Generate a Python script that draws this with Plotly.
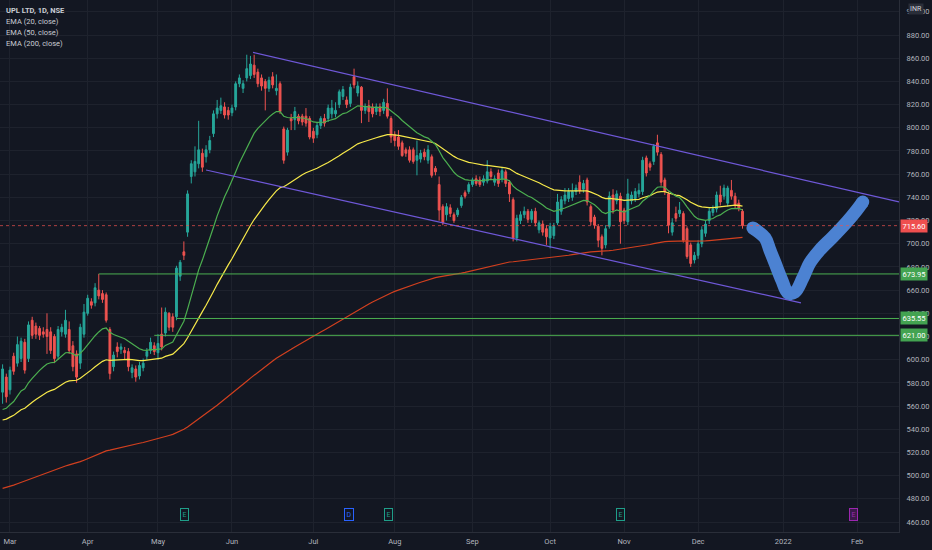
import plotly.graph_objects as go

# daily candles, index 0 = 1 Mar 2021 (trading days)
start_idx = -2
opens = [572, 585, 574, 603, 597, 601, 615, 601, 634, 629,
         627, 624, 626, 624, 620, 603, 624, 622, 626, 612,
         605, 597, 622, 640, 650, 649, 660, 657, 656, 626,
         594, 611, 609, 608, 607, 589, 592, 586, 593, 603,
         608, 612, 606, 622, 623, 640, 637, 637, 672, 693,
         710, 758, 762, 769, 778, 775, 781, 795, 812, 815,
         818, 815, 813, 818, 838, 834, 843, 845, 854, 848,
         843, 840, 834, 844, 832, 838, 799, 779, 808, 807,
         810, 810, 810, 808, 797, 794, 802, 808, 808, 812,
         812, 820, 827, 824, 821, 844, 830, 835, 815, 819,
         818, 814, 818, 815, 821, 808, 794, 792, 787, 781,
         781, 781, 772, 773, 779, 772, 775, 765, 751, 732,
         725, 731, 725, 725, 733, 744, 745, 751, 756, 755,
         753, 754, 762, 753, 761, 756, 762, 753, 738, 705,
         720, 725, 728, 721, 728, 712, 717, 713, 705, 707,
         718, 728, 737, 739, 740, 745, 753, 747, 755, 732,
         723, 715, 706, 699, 715, 742, 737, 741, 729, 719,
         737, 739, 743, 745, 774, 769, 771, 787, 777, 755,
         743, 710, 726, 726, 726, 713, 699, 686, 690, 700,
         709, 720, 727, 730, 742, 741, 735, 746, 741, 735,
         728]
highs = [596, 588, 594, 606, 620, 619, 618, 633, 637, 632,
         629, 628, 640, 628, 622, 629, 631, 643, 633, 616,
         608, 631, 648, 656, 653, 666, 674, 660, 658, 628,
         607, 615, 614, 611, 610, 596, 595, 598, 601, 610,
         619, 615, 622, 645, 645, 641, 640, 681, 686, 702,
         746, 772, 784, 806, 782, 785, 793, 815, 824, 826,
         822, 818, 820, 840, 846, 841, 863, 862, 863, 851,
         846, 842, 844, 848, 846, 840, 801, 800, 812, 818,
         812, 812, 817, 810, 800, 805, 810, 812, 820, 824,
         822, 833, 836, 827, 838, 851, 840, 836, 821, 824,
         821, 821, 821, 825, 834, 810, 797, 798, 789, 783,
         784, 783, 789, 781, 782, 785, 777, 767, 758, 734,
         735, 734, 727, 731, 742, 746, 753, 757, 759, 758,
         759, 772, 765, 759, 764, 766, 764, 755, 740, 725,
         728, 732, 730, 730, 731, 720, 720, 716, 718, 718,
         743, 741, 748, 748, 752, 751, 759, 755, 757, 734,
         725, 717, 708, 716, 745, 747, 746, 744, 731, 756,
         745, 748, 752, 775, 776, 771, 786, 794, 779, 757,
         745, 722, 732, 736, 728, 715, 701, 693, 703, 715,
         720, 731, 733, 745, 750, 751, 750, 755, 744, 738,
         730]
lows = [562, 563, 570, 587, 594, 598, 588, 598, 618, 618,
        617, 619, 605, 605, 597, 600, 620, 619, 605, 590,
        580, 592, 619, 638, 644, 646, 652, 649, 632, 583,
        590, 602, 605, 600, 590, 584, 581, 583, 590, 600,
        605, 604, 600, 608, 620, 625, 624, 634, 668, 686,
        706, 752, 758, 765, 762, 770, 778, 792, 808, 812,
        808, 807, 810, 815, 835, 830, 840, 842, 843, 835,
        832, 815, 831, 834, 828, 812, 769, 776, 798, 798,
        803, 802, 801, 790, 787, 791, 799, 801, 805, 808,
        809, 817, 824, 817, 818, 834, 827, 804, 812, 805,
        809, 811, 810, 812, 808, 787, 784, 781, 775, 775,
        770, 769, 759, 770, 772, 769, 757, 759, 720, 716,
        720, 723, 718, 723, 731, 739, 743, 749, 750, 749,
        750, 752, 755, 750, 749, 753, 749, 736, 702, 702,
        717, 722, 718, 718, 715, 709, 707, 699, 696, 704,
        716, 725, 734, 736, 737, 742, 743, 744, 733, 716,
        713, 697, 690, 696, 713, 726, 734, 700, 717, 716,
        734, 736, 740, 742, 758, 763, 768, 776, 750, 742,
        709, 707, 719, 723, 701, 687, 680, 683, 687, 697,
        706, 717, 724, 727, 733, 738, 732, 738, 730, 728,
        713]
closes = [592, 568, 591, 590, 613, 616, 591, 630, 621, 622,
          621, 622, 620, 608, 601, 626, 628, 634, 608, 594,
          585, 628, 641, 653, 647, 662, 655, 652, 634, 588,
          604, 607, 611, 606, 594, 593, 585, 595, 597, 607,
          615, 607, 614, 611, 641, 628, 628, 679, 684, 690,
          743, 769, 771, 781, 766, 781, 789, 812, 817, 819,
          811, 811, 817, 838, 843, 838, 851, 855, 846, 838,
          836, 834, 841, 837, 834, 814, 772, 798, 806, 814,
          806, 805, 804, 792, 791, 802, 808, 804, 817, 817,
          815, 831, 833, 820, 835, 837, 836, 815, 818, 814,
          812, 818, 814, 822, 810, 792, 789, 784, 776, 778,
          772, 771, 776, 778, 775, 781, 759, 762, 729, 718,
          732, 726, 720, 729, 740, 741, 751, 755, 752, 751,
          756, 762, 758, 756, 752, 763, 752, 743, 705, 722,
          725, 728, 721, 728, 718, 718, 710, 706, 715, 715,
          736, 738, 742, 745, 745, 748, 746, 752, 736, 719,
          716, 703, 696, 713, 741, 729, 743, 719, 720, 743,
          742, 745, 746, 772, 761, 766, 784, 779, 753, 745,
          716, 718, 722, 729, 703, 689, 683, 690, 700, 712,
          717, 728, 730, 742, 736, 748, 748, 741, 733, 731,
          715.6]
idx = list(range(start_idx, start_idx + len(closes)))

# EMA values at the first visible candle
ema_seeds = {20: 557, 50: 548, 200: 489}
ema_colors = {20: "#4caf50", 50: "#f7e94a", 200: "#d2401f"}

month_idx = [0, 21, 40, 60, 82, 104, 125, 146, 166, 186, 209, 229]
month_lbl = ["Mar", "Apr", "May", "Jun", "Jul", "Aug", "Sep", "Oct", "Nov", "Dec", "2022", "Feb"]

levels = [673.95, 635.55, 621.00]
level_start = [24, 45, 39]
last_price = 715.60

channel_upper = [(65.7, 865), (240.3, 736)]
channel_lower = [(53, 763.6), (213.8, 649)]

# the hand drawn "V"
brush_x = [200.8, 204.1, 205.4, 206.8, 208.6, 210.3, 212.2, 214.3, 216.2, 218.9, 222.4, 226.2, 228.9, 230.5]
brush_y = [713.6, 705.0, 694.6, 683.4, 668.8, 657.5, 658.4, 670.4, 683.4, 694.6, 705.8, 718.7, 729.1, 736.0]

event_idx = [47.3, 91.6, 102.4, 164.9, 228.1]
event_txt = ["E", "D", "E", "E", "E"]
event_col = ["#1f9e89", "#2962ff", "#1f9e89", "#1f9e89", "#9c27b0"]

x_rng = [-2.7, 240.3]
y_rng = [451.4, 910.2]
BG = "#131722"
GRID = "#1e222d"
TXT = "#b2b5be"
FONT = "Roboto"
BRUSH = "#4c82d2"


def ema(vals, span, seed):
    a = 2.0 / (span + 1)
    out = [seed]
    for v in vals[1:]:
        out.append(a * v + (1 - a) * out[-1])
    return out


fig = go.Figure()

fig.add_trace(go.Candlestick(
    x=idx, open=opens, high=highs, low=lows, close=closes,
    increasing=dict(line=dict(color="#26a69a", width=1), fillcolor="#26a69a"),
    decreasing=dict(line=dict(color="#ef5350", width=1), fillcolor="#ef5350"),
    whiskerwidth=0, showlegend=False,
))

for span in (200, 50, 20):
    fig.add_trace(go.Scatter(
        x=idx, y=ema(closes, span, ema_seeds[span]), mode="lines",
        line=dict(color=ema_colors[span], width=1.2), showlegend=False,
    ))

for pts in (channel_upper, channel_lower):
    fig.add_trace(go.Scatter(
        x=[p[0] for p in pts], y=[p[1] for p in pts], mode="lines",
        line=dict(color="#6f58d8", width=1.2), showlegend=False,
    ))

for lv, st in zip(levels, level_start):
    fig.add_trace(go.Scatter(
        x=[st, x_rng[1]], y=[lv, lv], mode="lines",
        line=dict(color="#4caf50", width=1), showlegend=False,
    ))

fig.add_trace(go.Scatter(
    x=brush_x, y=brush_y, mode="lines",
    line=dict(color=BRUSH, width=13, shape="spline"), showlegend=False,
))
# round ends of the brush stroke
fig.add_trace(go.Scatter(
    x=[brush_x[0], brush_x[-1]], y=[brush_y[0], brush_y[-1]], mode="markers",
    marker=dict(color=BRUSH, size=13), showlegend=False,
))

fig.add_shape(type="line", xref="paper", x0=0, x1=1, y0=last_price, y1=last_price,
              line=dict(color="#ef5350", width=1, dash="dot"), opacity=0.7)

ann = []
legend_rows = ["<b>UPL LTD, 1D, NSE</b>", "EMA (20, close)", "EMA (50, close)", "EMA (200, close)"]
for k, t in enumerate(legend_rows):
    ann.append(dict(xref="paper", yref="paper", x=0.004, y=1 - (11 + 10.7 * k) / 532,
                    xanchor="left", yanchor="middle", text=t, showarrow=False,
                    font=dict(family=FONT, size=7.5, color="#c9ccd4")))

for lv in levels:
    ann.append(dict(xref="paper", yref="y", x=1.0, y=lv, xanchor="left", yanchor="middle",
                    xshift=1, text="%.2f" % lv, showarrow=False, bgcolor="#43a351",
                    font=dict(family=FONT, size=7.5, color="white"), borderpad=1.5))
ann.append(dict(xref="paper", yref="y", x=1.0, y=last_price, xanchor="left", yanchor="middle",
                xshift=1, text="%.2f" % last_price, showarrow=False, bgcolor="#ef4f4f",
                font=dict(family=FONT, size=7.5, color="white"), borderpad=1.5))
ann.append(dict(xref="paper", yref="paper", x=1.0, y=1 - 9 / 532, xanchor="left", yanchor="middle",
                xshift=9, text="INR", showarrow=False, bgcolor="#2a2e39",
                font=dict(family=FONT, size=7, color="#d1d4dc"), borderpad=1))

for ex, et, ec in zip(event_idx, event_txt, event_col):
    ann.append(dict(xref="x", yref="paper", x=ex, y=1 - 521 / 532, text=et, showarrow=False,
                    font=dict(family=FONT, size=7, color=ec), bordercolor=ec, borderwidth=1,
                    borderpad=1.5, bgcolor="#3b1a4a" if ec == "#9c27b0" else BG))

fig.update_layout(
    width=932, height=550,
    margin=dict(l=0, r=33, t=0, b=18),
    paper_bgcolor=BG, plot_bgcolor=BG,
    annotations=ann,
    showlegend=False,
    xaxis=dict(range=x_rng, tickvals=month_idx, ticktext=month_lbl, showgrid=True,
               gridcolor=GRID, zeroline=False, rangeslider=dict(visible=False),
               showline=True, linecolor="#2a2e39", ticks="", ticklabelstandoff=2,
               tickfont=dict(family=FONT, size=7.5, color=TXT)),
    yaxis=dict(range=y_rng, side="right", dtick=20, tick0=0, tickformat=".2f",
               showgrid=True, gridcolor=GRID, zeroline=False, showline=True,
               linecolor="#2a2e39", ticks="", ticklabelstandoff=5,
               tickfont=dict(family=FONT, size=7.5, color=TXT)),
)

fig.write_html("out.html", config={"displayModeBar": False},
               post_script="document.body.style.margin='0';document.body.style.background='#131722';")
